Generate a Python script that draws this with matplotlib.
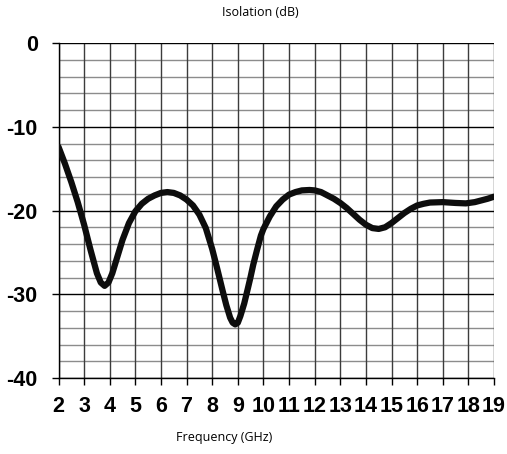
import matplotlib
matplotlib.use("Agg")
import matplotlib.pyplot as plt
import numpy as np

freq = [2.0, 2.25, 2.5, 2.75, 3.0, 3.25, 3.5, 3.65, 3.8, 3.95, 4.1, 4.3, 4.5, 4.75,
        5.0, 5.25, 5.5, 5.75, 6.0, 6.25, 6.5, 6.75, 7.0, 7.25, 7.5, 7.75, 8.0, 8.2,
        8.4, 8.55, 8.7, 8.8, 8.9, 9.0, 9.1, 9.25, 9.4, 9.5, 9.6, 9.75, 9.9, 10.0,
        10.25, 10.5, 10.75, 11.0, 11.25, 11.5, 11.8, 12.0, 12.25, 12.5, 12.75, 13.0,
        13.25, 13.5, 13.75, 14.0, 14.25, 14.5, 14.75, 15.0, 15.25, 15.5, 15.75, 16.0,
        16.25, 16.5, 17.0, 17.5, 17.9, 18.25, 18.5, 18.75, 19.0]
isolation = [-12.4, -14.4, -16.6, -19.0, -21.7, -24.7, -27.5, -28.6, -29.0, -28.6, -27.5,
             -25.5, -23.5, -21.5, -20.1, -19.2, -18.6, -18.2, -17.9, -17.8, -17.9, -18.2,
             -18.7, -19.4, -20.5, -22.1, -24.6, -27.0, -29.5, -31.3, -32.8, -33.4, -33.6,
             -33.4, -32.6, -31.1, -29.2, -27.9, -26.5, -24.7, -23.0, -22.2, -20.7, -19.5,
             -18.7, -18.1, -17.8, -17.6, -17.55, -17.6, -17.8, -18.2, -18.6, -19.1, -19.7,
             -20.4, -21.1, -21.7, -22.1, -22.2, -22.0, -21.5, -20.9, -20.3, -19.8, -19.4,
             -19.2, -19.05, -19.0, -19.1, -19.15, -19.0, -18.8, -18.6, -18.35]

x_ticks = list(range(2, 20))
y_ticks = [0, -10, -20, -30, -40]
title = "Isolation (dB)"
xlabel = "Frequency (GHz)"

fig = plt.figure(figsize=(5.07, 4.54), dpi=100)
W, H = 507, 454
ax = fig.add_axes([58.5 / W, 1 - 378 / H, (494 - 58.5) / W, (378 - 43) / H])

ax.set_xlim(2, 19)
ax.set_ylim(-40, 0)

# grid
for yv in np.arange(-38, 0, 2):
    if yv % 10 != 0:
        ax.axhline(yv, color="#8c8c8c", lw=1.0, zorder=1)
for yv in y_ticks:
    ax.axhline(yv, color="black", lw=1.0, zorder=1.5)
for xv in x_ticks:
    ax.axvline(xv, color="#3c3c3c", lw=1.0, zorder=1.2)

ax.plot(freq, isolation, color="#0d0d0d", lw=4.5, solid_capstyle="round",
        solid_joinstyle="round", zorder=3)

for s in ["top", "right"]:
    ax.spines[s].set_visible(False)
ax.spines["left"].set_color("black")
ax.spines["bottom"].set_color("black")
ax.spines["left"].set_linewidth(1.0)
ax.spines["bottom"].set_linewidth(1.0)

ax.set_xticks(x_ticks)
ax.set_xticklabels([str(v) for v in x_ticks])
ax.set_yticks(y_ticks)
ax.set_yticklabels([str(v) for v in y_ticks])
ax.tick_params(axis="both", direction="out", length=5, width=1, color="black")
ax.tick_params(axis="x", pad=8)
ax.tick_params(axis="y", pad=10)
for lab in ax.get_xticklabels() + ax.get_yticklabels():
    lab.set_fontfamily("Liberation Sans")
    lab.set_fontweight("bold")
    lab.set_fontsize(15.5)

fig.text(260 / W, 1 - 13 / H, title, ha="center", va="center",
         fontfamily="Open Sans", fontsize=9)
fig.text(224 / W, 1 - 438 / H, xlabel, ha="center", va="center",
         fontfamily="Open Sans", fontsize=9)

fig.savefig("out.png", dpi=100)
